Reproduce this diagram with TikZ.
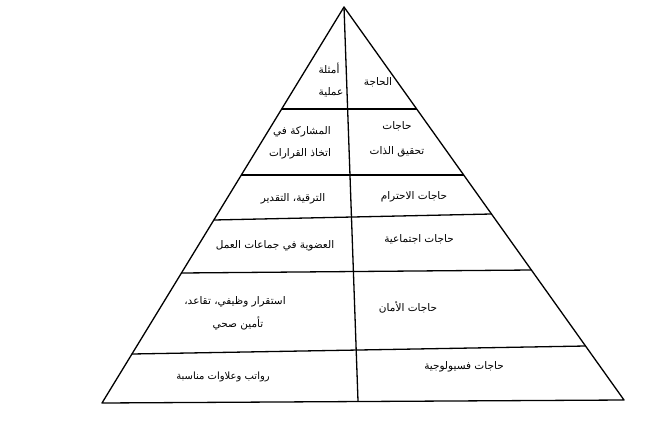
\documentclass[tikz,border=0pt]{standalone}
\usepackage{fontspec}
\newfontfamily\arabicfont[Script=Arabic]{DejaVu Sans}
\TeXXeTstate=1
\begin{document}
\begin{tikzpicture}[x=1pt,y=-1pt,
  edge/.style={line width=1.3pt,line join=round},
  lbl/.style={font=\arabicfont\fontsize{#1}{13}\selectfont,inner sep=0pt,align=center},
  lbl/.default=10.5]
\useasboundingbox (0,0) rectangle (668,425);
% triangle corners
\coordinate (A) at (344,7);
\coordinate (L) at (102,403);
\coordinate (R) at (624,400);
\coordinate (B) at (358,401);
% row separators
\coordinate (l1) at (281.7,109); \coordinate (r1) at (416.7,109);
\coordinate (l2) at (241.3,175); \coordinate (r2) at (463.7,175);
\coordinate (l3) at (213.8,220); \coordinate (r3) at (491.5,214);
\coordinate (l4) at (181.4,273); \coordinate (r4) at (531.4,270);
\coordinate (l5) at (132,354);   \coordinate (r5) at (585.5,346);
\draw[edge] (A) -- (L) -- (R) -- cycle;
\draw[edge] (A) -- (B);
\draw[edge] (l1) -- (r1);
\draw[edge] (l2) -- (r2);
\draw[edge] (l3) -- (r3);
\draw[edge] (l4) -- (r4);
\draw[edge] (l5) -- (r5);
% labels
\node[lbl] (h1) at (329,68) {\beginR أمثلة\endR};
\node[lbl] (h2) at (331,92) {\beginR عملية\endR};
\node[lbl] (h3) at (378,82) {\beginR الحاجة\endR};
\node[lbl] (e1a) at (302,132) {\beginR المشاركة في\endR};
\node[lbl] (e1b) at (300,154) {\beginR اتخاذ القرارات\endR};
\node[lbl] (n1a) at (397,126) {\beginR حاجات\endR};
\node[lbl] (n1b) at (397,152) {\beginR تحقيق الذات\endR};
\node[lbl] (e2) at (293,199) {\beginR الترقية، التقدير\endR};
\node[lbl] (n2) at (414,197) {\beginR حاجات الاحترام\endR};
\node[lbl] (e3) at (275,246) {\beginR العضوية في جماعات العمل\endR};
\node[lbl] (n3) at (419,239) {\beginR حاجات اجتماعية\endR};
\node[lbl] (e4a) at (235,302) {\beginR استقرار وظيفي، تقاعد،\endR};
\node[lbl] (e4b) at (238,323) {\beginR تأمين صحي\endR};
\node[lbl] (n4) at (408,307) {\beginR حاجات الأمان\endR};
\node[lbl=10] (e5) at (223,377) {\beginR رواتب وعلاوات مناسبة\endR};
\node[lbl] (n5) at (464,367) {\beginR حاجات فسيولوجية\endR};
\end{tikzpicture}
\end{document}
